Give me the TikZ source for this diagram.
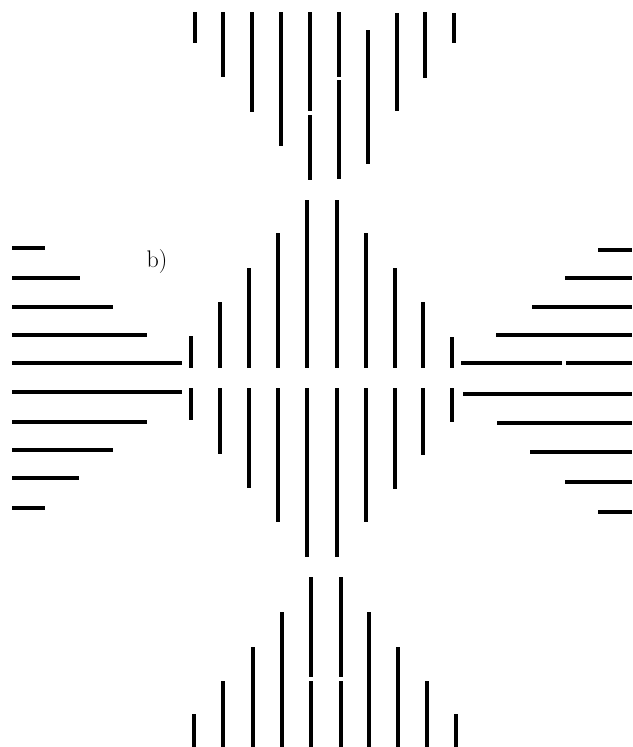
\documentclass[tikz,border=0pt]{standalone}
\usepackage{tikz}

\begin{document}
\begin{tikzpicture}[
  x=1pt, y=-1pt,
  bar/.style={draw=black, line width=3.6pt},
  tag/.style={font=\fontsize{24}{26}\selectfont, inner sep=0pt}
]
\useasboundingbox (0,0) rectangle (632,747);
% top comb
\draw[bar] (195,12) -- (195,43) (223,12) -- (223,77) (252,12) -- (252,112) (281,12) -- (281,146);
\draw[bar] (310,12) -- (310,111) (310,115) -- (310,180) (339,12) -- (339,77) (339,80) -- (339,179);
\draw[bar] (368,30) -- (368,164) (397,13) -- (397,111) (425,12) -- (425,78) (454,13) -- (454,43);
% middle, upper half
\draw[bar] (191,336) -- (191,368) (220,302) -- (220,368) (249,268) -- (249,368) (278,233) -- (278,368) (307,200) -- (307,368);
\draw[bar] (337,200) -- (337,368) (366,233) -- (366,368) (395,268) -- (395,368) (423,302) -- (423,368) (452,337) -- (452,368);
% middle, lower half
\draw[bar] (191,388) -- (191,420) (220,388) -- (220,454) (249,388) -- (249,488) (278,388) -- (278,522) (307,388) -- (307,557);
\draw[bar] (337,388) -- (337,557) (366,388) -- (366,522) (395,388) -- (395,489) (423,388) -- (423,455) (452,388) -- (452,422);
% left horizontals
\draw[bar] (12,248) -- (45,248) (12,278) -- (80,278) (12,307) -- (113,307) (12,335) -- (147,335) (12,363) -- (182,363);
\draw[bar] (12,392) -- (182,392) (12,422) -- (147,422) (12,450) -- (113,450) (12,478) -- (79,478) (12,508) -- (45,508);
% right horizontals
\draw[bar] (598,250) -- (632,250) (565,278) -- (632,278) (532,307) -- (632,307) (496,335) -- (632,335) (461,363) -- (562,363) (566,363) -- (632,363);
\draw[bar] (463,394) -- (632,394) (497,423) -- (632,423) (530,452) -- (632,452) (565,482) -- (632,482) (598,512) -- (632,512);
% bottom comb
\draw[bar] (311,577) -- (311,677) (311,681) -- (311,747) (341,577) -- (341,677) (341,681) -- (341,747);
\draw[bar] (282,612) -- (282,747) (369,612) -- (369,747) (253,647) -- (253,747) (398,647) -- (398,747);
\draw[bar] (223,681) -- (223,747) (427,681) -- (427,747) (194,714) -- (194,747) (456,714) -- (456,747);
\node[tag] (label) at (157,262) {b)};
\end{tikzpicture}
\end{document}
